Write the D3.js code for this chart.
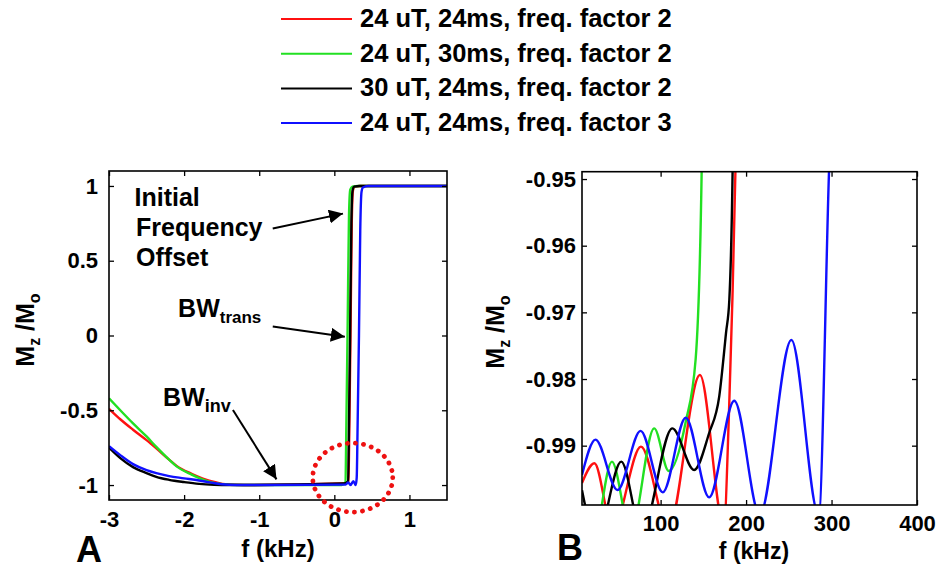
<!DOCTYPE html>
<html>
<head>
<meta charset="utf-8">
<script src="https://cdn.jsdelivr.net/npm/d3@7"></script>
<style>
  body { margin: 0; background: #fff; }
  svg { display: block; font-family: "Liberation Sans", Arial, sans-serif; font-weight: bold; }
</style>
</head>
<body>
<svg id="fig" width="936" height="569"></svg>
<script>
'use strict';

// ---- data ---------------------------------------------------------------
const seriesNames = [
  '24 uT, 24ms, freq. factor 2',
  '24 uT, 30ms, freq. factor 2',
  '30 uT, 24ms, freq. factor 2',
  '24 uT, 24ms, freq. factor 3'
];
const seriesColors = ['#ff1010', '#22e022', '#000000', '#1010ff'];

// panel A : f (kHz) vs Mz/Mo
const aRed = [[-3,-0.49],[-2.85,-0.56],[-2.68,-0.63],[-2.5,-0.70],[-2.37,-0.755],[-2.2,-0.83],[-2.1,-0.872],
  [-1.9,-0.925],[-1.75,-0.957],[-1.57,-0.983],[-1.45,-0.995],[-1.2,-1],[0.12,-0.99],[0.188,-0.975],
  [0.2,-0.6],[0.215,0],[0.232,0.75],[0.248,0.97],[0.27,0.995],[0.34,1],[1.5,1]];
const aGreen = [[-3,-0.42],[-2.85,-0.5],[-2.68,-0.588],[-2.5,-0.675],[-2.37,-0.745],[-2.2,-0.83],[-2.1,-0.875],
  [-1.9,-0.93],[-1.75,-0.963],[-1.57,-0.99],[-1.4,-0.998],[-1.0,-1],[0.1,-1],[0.148,-0.98],
  [0.16,-0.6],[0.178,0.1],[0.195,0.8],[0.212,0.975],[0.24,0.995],[0.32,1],[1.5,1]];
const aBlack = [[-3,-0.75],[-2.85,-0.82],[-2.68,-0.88],[-2.5,-0.92],[-2.37,-0.945],[-2.2,-0.965],[-2.0,-0.98],
  [-1.8,-0.992],[-1.6,-0.998],[-1.4,-1],[0.12,-0.99],[0.184,-0.975],[0.195,-0.6],[0.21,0],
  [0.227,0.75],[0.243,0.97],[0.265,0.995],[0.34,1],[1.5,1]];
const aBlue = [[-3,-0.74],[-2.85,-0.80],[-2.68,-0.86],[-2.5,-0.90],[-2.37,-0.92],[-2.2,-0.94],[-2.0,-0.955],
  [-1.8,-0.97],[-1.66,-0.982],[-1.5,-0.995],[-1.3,-1],[0.15,-0.997],[0.186,-0.983],[0.215,-1],
  [0.253,-0.974],[0.284,-1],[0.298,-0.95],[0.31,-0.6],[0.328,0],[0.345,0.7],[0.362,0.96],
  [0.38,0.99],[0.45,1],[1.5,1]];

// panel B : zoom of the inversion band
const bRed = [[8,-0.9956],[22.5,-0.99264],[44,-1.0025],[77,-0.99015],[109,-1.0025],[146,-0.9794],
  [174,-1.002],[180,-0.985],[184,-0.968],[187.5,-0.949],[190,-0.93]];
const bGreen = [[8,-1.004],[20,-1.005],[43,-0.9924],[65,-1.003],[92.5,-0.9874],[109.5,-0.9938],
  [129.4,-0.9864],[141,-0.977],[148,-0.949],[150,-0.93]];
const bBlack = [[8,-0.9967],[25,-1.004],[54,-0.9924],[78,-1.003],[113.7,-0.9874],[139.2,-0.99365],
  [156.8,-0.9881],[168.6,-0.9826],[176.5,-0.9731],[180.4,-0.9681],[184.2,-0.949],[186,-0.93]];
const bBlue = [[8,-0.9944],[23.8,-0.9891],[49.5,-0.99665],[76.5,-0.98778],[102.5,-0.9970],
  [129.4,-0.9858],[156.8,-0.99775],[186.2,-0.98325],[216,-1.0004],[253,-0.97415],[285,-1.0004],
  [297,-0.949],[302,-0.93]];

const aSeries = [aRed, aGreen, aBlack, aBlue];
const bSeries = [bRed, bGreen, bBlack, bBlue];

const aXTicks = [-3, -2, -1, 0, 1];
const aYTicks = [-1, -0.5, 0, 0.5, 1];
const bXTicks = [100, 200, 300, 400];
const bYTicks = [-0.99, -0.98, -0.97, -0.96, -0.95];

// ---- layout -------------------------------------------------------------
const svg = d3.select('#fig');

const xA = d3.scaleLinear().domain([-3, 1.5]).range([109, 447]);
const yA = d3.scaleLinear().domain([-1.1, 1.1]).range([500, 171]);
const xB = d3.scaleLinear().domain([8, 400]).range([582, 917]);
const yB = d3.scaleLinear().domain([-0.9989, -0.9489]).range([505, 171.7]);

svg.append('defs').append('marker')
  .attr('id', 'head')
  .attr('viewBox', '0 0 10 10')
  .attr('refX', 10).attr('refY', 5)
  .attr('markerWidth', 7).attr('markerHeight', 7)
  .attr('markerUnits', 'strokeWidth')
  .attr('orient', 'auto')
  .append('path')
  .attr('d', 'M0,0 L10,5 L0,10 Z')
  .attr('fill', '#000');

function panel(id, x, y, series, xTicks, yTicks, yPad, xPad) {
  const [x0, x1] = x.range();
  const [y1, y0] = y.range();

  svg.append('clipPath').attr('id', id)
    .append('rect')
    .attr('x', x0).attr('y', y0)
    .attr('width', x1 - x0).attr('height', y1 - y0);

  const line = d3.line()
    .x(d => x(d[0]))
    .y(d => y(d[1]))
    .curve(d3.curveMonotoneX);

  svg.append('g')
    .attr('clip-path', `url(#${id})`)
    .selectAll('path')
    .data(series)
    .join('path')
    .attr('d', line)
    .attr('fill', 'none')
    .attr('stroke', (d, i) => seriesColors[i])
    .attr('stroke-width', 2.4);

  const fmt = d => String(d);
  const styleAxis = g => {
    g.select('.domain').remove();
    g.selectAll('line').attr('stroke', '#000').attr('stroke-width', 1.3);
    g.selectAll('text')
      .attr('font-size', 22)
      .attr('font-weight', 'bold')
      .attr('font-family', '"Liberation Sans", Arial, sans-serif')
      .attr('fill', '#000');
  };

  svg.append('g').attr('transform', `translate(0,${y1})`)
    .call(d3.axisBottom(x).tickValues(xTicks).tickFormat(fmt)
      .tickSizeInner(-5).tickSizeOuter(0).tickPadding(xPad))
    .call(styleAxis);
  svg.append('g').attr('transform', `translate(0,${y0})`)
    .call(d3.axisTop(x).tickValues(xTicks).tickFormat('')
      .tickSizeInner(-5).tickSizeOuter(0))
    .call(styleAxis);
  svg.append('g').attr('transform', `translate(${x0},0)`)
    .call(d3.axisLeft(y).tickValues(yTicks).tickFormat(fmt)
      .tickSizeInner(-5).tickSizeOuter(0).tickPadding(yPad))
    .call(styleAxis);
  svg.append('g').attr('transform', `translate(${x1},0)`)
    .call(d3.axisRight(y).tickValues(yTicks).tickFormat('')
      .tickSizeInner(-5).tickSizeOuter(0))
    .call(styleAxis);

  svg.append('rect')
    .attr('x', x0).attr('y', y0)
    .attr('width', x1 - x0).attr('height', y1 - y0)
    .attr('fill', 'none')
    .attr('stroke', '#000')
    .attr('stroke-width', 1.6);
}

panel('clipA', xA, yA, aSeries, aXTicks, aYTicks, 11, 11);
panel('clipB', xB, yB, bSeries, bXTicks, bYTicks, 6, 10);

// ---- axis titles and panel letters -------------------------------------
function yTitle(cx, cy) {
  const t = svg.append('text')
    .attr('transform', `translate(${cx},${cy}) rotate(-90)`)
    .attr('text-anchor', 'middle')
    .attr('font-size', 25);
  t.append('tspan').text('M');
  t.append('tspan').attr('font-size', 16).attr('dy', 6).text('z');
  t.append('tspan').attr('dy', -6).text(' /M');
  t.append('tspan').attr('font-size', 16).attr('dy', 6).text('o');
}
yTitle(34, 330);
yTitle(504, 332);

svg.append('text').attr('x', 278).attr('y', 557)
  .attr('text-anchor', 'middle').attr('font-size', 24).text('f (kHz)');
svg.append('text').attr('x', 754).attr('y', 559)
  .attr('text-anchor', 'middle').attr('font-size', 23).text('f (kHz)');

svg.append('text').attr('x', 76).attr('y', 562).attr('font-size', 36).text('A');
svg.append('text').attr('x', 557).attr('y', 560).attr('font-size', 36).text('B');

// ---- annotations in panel A --------------------------------------------
const offsetLines = ['Initial', 'Frequency', 'Offset'];
svg.append('g').selectAll('text')
  .data(offsetLines)
  .join('text')
  .attr('x', (d, i) => xA(i === 0 ? -2.66 : -2.64))
  .attr('y', (d, i) => yA(0.866 - i * 0.2))
  .attr('font-size', 25)
  .text(d => d);

function bw(xv, yv, sub, subSize) {
  const t = svg.append('text')
    .attr('x', xA(xv)).attr('y', yA(yv))
    .attr('font-size', 25);
  t.append('tspan').text('BW');
  t.append('tspan').attr('font-size', subSize).attr('dy', 6).text(sub);
}
bw(-2.08, 0.124, 'trans', 17);
bw(-2.28, -0.471, 'inv', 18);

const arrows = [
  [[-0.82, 0.716], [0.115, 0.815]],
  [[-0.82, 0.06], [0.14, -0.008]],
  [[-1.35, -0.498], [-0.77, -0.962]]
];
svg.append('g').selectAll('line')
  .data(arrows)
  .join('line')
  .attr('x1', d => xA(d[0][0])).attr('y1', d => yA(d[0][1]))
  .attr('x2', d => xA(d[1][0])).attr('y2', d => yA(d[1][1]))
  .attr('stroke', '#000')
  .attr('stroke-width', 2)
  .attr('marker-end', 'url(#head)');

// dotted ring around the start of the transition
svg.append('ellipse')
  .attr('cx', xA(0.245)).attr('cy', yA(-0.95))
  .attr('rx', 40).attr('ry', 34.5)
  .attr('fill', 'none')
  .attr('stroke', '#ee1111')
  .attr('stroke-width', 4.8)
  .attr('stroke-linecap', 'round')
  .attr('stroke-dasharray', '0.1 8');

// ---- legend -------------------------------------------------------------
const legend = svg.append('g').attr('transform', 'translate(281,19)');
const rows = legend.selectAll('g')
  .data(seriesNames)
  .join('g')
  .attr('transform', (d, i) => `translate(0,${i * 34.7})`);
rows.append('line')
  .attr('x1', 0).attr('x2', 71)
  .attr('stroke', (d, i) => seriesColors[i])
  .attr('stroke-width', 2);
rows.append('text')
  .attr('x', 79).attr('y', 8)
  .attr('font-size', 25.5)
  .text(d => d);
</script>
</body>
</html>
